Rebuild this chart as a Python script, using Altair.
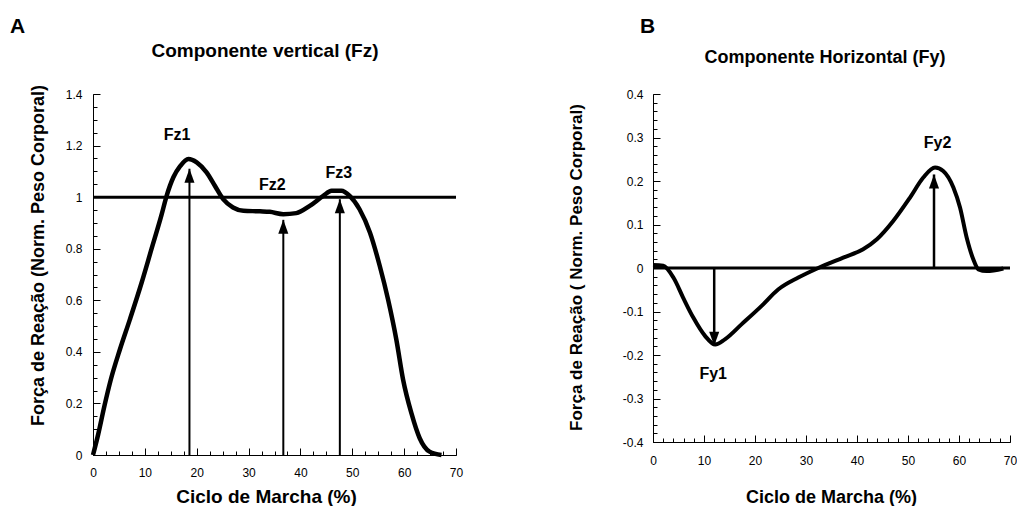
import altair as alt
import pandas as pd

FONT = "Liberation Sans"

# ---------------- Panel A: vertical component (Fz) ----------------
a_x = [0, 1.0, 2.2, 3.4, 5.2, 7.1, 9.4, 11.3, 13.2, 14.2, 15.5, 16.8, 18.4, 20.0,
       21.9, 23.5, 25.1, 27.0, 29.0, 32.2, 34.1, 36.7, 39.2, 41.8, 44.4, 46.0,
       47.9, 49.5, 51.4, 53.4, 55.3, 56.9, 58.5, 59.8, 61.4, 63.0, 64.9, 67.2]
a_y = [0, 0.08, 0.19, 0.29, 0.41, 0.525, 0.67, 0.80, 0.93, 1.005, 1.077, 1.12, 1.148, 1.135,
       1.096, 1.044, 0.992, 0.96, 0.947, 0.945, 0.943, 0.934, 0.938, 0.966, 1.005, 1.025,
       1.025, 1.005, 0.953, 0.863, 0.733, 0.603, 0.447, 0.292, 0.162, 0.065, 0.013, 0.0]

a_arrow_x = [18.6, 36.7, 47.6]
a_arrow_tip = [1.11, 0.912, 0.992]
a_arrow_dir = ["up", "up", "up"]
a_labels = ["Fz1", "Fz2", "Fz3"]
a_label_x = [16.2, 34.6, 47.4]
a_label_y = [1.222, 1.028, 1.074]
a_ref = 1.0
a_y_domain = [0, 1.4]
a_y_major = [0, 0.2, 0.4, 0.6, 0.8, 1.0, 1.2, 1.4]
a_x_minor_step = 2.5
a_y_minor_step = 0.05

# ---------------- Panel B: horizontal component (Fy) ----------------
b_x = [0, 2.0, 4.0, 5.9, 7.9, 10.2, 12.2, 14.1, 17.4, 21.3, 24.6, 28.5, 32.4, 37.3,
       41.2, 43.9, 47.1, 50.4, 53.0, 55.3, 56.9, 58.9, 60.2, 61.5, 62.8, 63.8, 65.4, 68.7]
b_y = [0.007, 0.005, -0.022, -0.068, -0.114, -0.156, -0.176, -0.164, -0.129, -0.087,
       -0.049, -0.022, 0.0, 0.024, 0.043, 0.066, 0.108, 0.162, 0.208, 0.231, 0.223,
       0.185, 0.139, 0.070, 0.020, -0.003, -0.007, -0.001]

b_arrow_x = [12.0, 55.1]
b_arrow_tip = [-0.179, 0.215]
b_arrow_dir = ["down", "up"]
b_labels = ["Fy1", "Fy2"]
b_label_x = [11.8, 55.8]
b_label_y = [-0.255, 0.277]
b_ref = 0.0
b_y_domain = [-0.4, 0.4]
b_y_major = [-0.4, -0.3, -0.2, -0.1, 0, 0.1, 0.2, 0.3, 0.4]
b_x_minor_step = 2
b_y_minor_step = 0.02

x_domain = [0, 70]
x_major = [0, 10, 20, 30, 40, 50, 60, 70]

x_title = "Ciclo de Marcha (%)"
a_y_title = "Força de Reação (Norm. Peso Corporal)"
b_y_title = "Força de Reação ( Norm. Peso Corporal)"
a_title = "Componente vertical (Fz)"
b_title = "Componente Horizontal (Fy)"

UP = "M0,0 L-0.36,1 L0.36,1 Z"
DOWN = "M0,0 L-0.36,-1 L0.36,-1 Z"

LABEL_EXPR = "datum.value < 0 ? '-' + format(-datum.value, '~g') : format(datum.value, '~g')"


def steps(lo, hi, step):
    n = int(round((hi - lo) / step))
    return [round(lo + i * step, 6) for i in range(n + 1)]


def panel(letter, title, cx, cy, arrows_x, arrows_tip, arrows_dir, labels, lx, ly,
          ref, y_domain, y_major, x_minor_step, y_minor_step, y_title,
          width, height, xlab_pad, ylab_pad, xt_x, xt_y, xt_size, yt_x, yt_y, yt_size,
          curve_w, shaft_w, title_dy, letter_dx, title_cx, title_size):
    xs = alt.Scale(domain=x_domain, nice=False, zero=False)
    ys = alt.Scale(domain=y_domain, nice=False, zero=False)
    curve_df = pd.DataFrame({"x": cx, "y": cy})

    main_x = alt.Axis(orient="bottom", values=x_major, ticks=False, grid=False,
                      domainColor="black", domainWidth=1, labelFont=FONT,
                      labelFontSize=12, labelColor="black", labelPadding=xlab_pad,
                      labelFlush=False, labelOverlap=False, title=x_title,
                      titleFont=FONT, titleFontSize=xt_size, titleFontWeight="bold",
                      titleColor="black", titleX=xt_x, titleY=xt_y,
                      titleAnchor="middle", titleAlign="center", titleBaseline="top")
    main_y = alt.Axis(orient="left", values=y_major, ticks=False, grid=False,
                      domainColor="black", domainWidth=1, labelFont=FONT,
                      labelFontSize=12, labelColor="black", labelPadding=ylab_pad,
                      labelFlush=False, labelOverlap=False, labelExpr=LABEL_EXPR,
                      title=y_title, titleFont=FONT, titleFontSize=yt_size,
                      titleFontWeight="bold", titleColor="black", titleX=yt_x,
                      titleY=yt_y, titleAngle=270, titleAlign="center",
                      titleBaseline="bottom")

    curve = alt.Chart(curve_df).mark_line(color="black", strokeWidth=curve_w,
                                          interpolate="monotone").encode(
        x=alt.X("x:Q", scale=xs, axis=main_x),
        y=alt.Y("y:Q", scale=ys, axis=main_y),
    )

    def tick_layer(xvals, yvals, size):
        return alt.Chart(curve_df).mark_line(opacity=0).encode(
            x=alt.X("x:Q", scale=xs, axis=alt.Axis(
                orient="bottom", values=xvals, offset=-size, tickSize=size,
                tickColor="black", tickWidth=1, labels=False, domain=False,
                grid=False, title=None)),
            y=alt.Y("y:Q", scale=ys, axis=alt.Axis(
                orient="left", values=yvals, offset=-size, tickSize=size,
                tickColor="black", tickWidth=1, labels=False, domain=False,
                grid=False, title=None)),
        )

    major = tick_layer(x_major, y_major, 7)
    minor = tick_layer(steps(x_domain[0], x_domain[1], x_minor_step),
                       steps(y_domain[0], y_domain[1], y_minor_step), 4)

    ref_df = pd.DataFrame({"x0": [x_domain[0]], "x1": [x_domain[1]], "r": [ref]})
    ref_rule = alt.Chart(ref_df).mark_rule(color="black", strokeWidth=3).encode(
        x=alt.X("x0:Q", scale=xs, axis=None), x2="x1:Q",
        y=alt.Y("r:Q", scale=ys, axis=None),
    )

    arr_df = pd.DataFrame({"ax": arrows_x, "base": [ref if ref == 0 else 0] * len(arrows_x),
                           "tip": arrows_tip, "dir": arrows_dir})
    shafts = alt.Chart(arr_df).mark_rule(color="black", strokeWidth=shaft_w).encode(
        x=alt.X("ax:Q", scale=xs, axis=None),
        y=alt.Y("base:Q", scale=ys, axis=None), y2="tip:Q",
    )
    heads = alt.Chart(arr_df).mark_point(filled=True, color="black", opacity=1,
                                         size=784, strokeWidth=0).encode(
        x=alt.X("ax:Q", scale=xs, axis=None),
        y=alt.Y("tip:Q", scale=ys, axis=None),
        shape=alt.Shape("dir:N", scale=alt.Scale(domain=["up", "down"], range=[UP, DOWN]),
                        legend=None),
    )

    lab_df = pd.DataFrame({"lx": lx, "ly": ly, "t": labels})
    texts = alt.Chart(lab_df).mark_text(font=FONT, fontSize=16, fontWeight="bold",
                                        color="black", align="center",
                                        baseline="alphabetic").encode(
        x=alt.X("lx:Q", scale=xs, axis=None),
        y=alt.Y("ly:Q", scale=ys, axis=None),
        text="t:N",
    )

    head_df = pd.DataFrame({"t": [letter]})
    letter_mark = alt.Chart(head_df).mark_text(font=FONT, fontSize=21, fontWeight="bold",
                                               color="black", align="left",
                                               baseline="alphabetic").encode(
        x=alt.value(letter_dx), y=alt.value(-61), text="t:N")
    ttl_df = pd.DataFrame({"t": [title]})
    title_mark = alt.Chart(ttl_df).mark_text(font=FONT, fontSize=title_size,
                                             fontWeight="bold", color="black",
                                             align="center", baseline="alphabetic").encode(
        x=alt.value(title_cx), y=alt.value(title_dy), text="t:N")

    return alt.layer(curve, major, minor, ref_rule, shafts, heads, texts,
                     letter_mark, title_mark).resolve_axis(
        x="independent", y="independent").properties(width=width, height=height)


A = panel("A", a_title, a_x, a_y, a_arrow_x, a_arrow_tip, a_arrow_dir, a_labels,
          a_label_x, a_label_y, a_ref, a_y_domain, a_y_major, a_x_minor_step,
          a_y_minor_step, a_y_title, width=363, height=361, xlab_pad=12, ylab_pad=11,
          xt_x=173, xt_y=32, xt_size=19, yt_x=-46, yt_y=161, yt_size=18, curve_w=4.5,
          shaft_w=2, title_dy=-37, letter_dx=-83, title_cx=172, title_size=19)
B = panel("B", b_title, b_x, b_y, b_arrow_x, b_arrow_tip, b_arrow_dir, b_labels,
          b_label_x, b_label_y, b_ref, b_y_domain, b_y_major, b_x_minor_step,
          b_y_minor_step, b_y_title, width=357, height=348, xlab_pad=13, ylab_pad=10,
          xt_x=178, xt_y=46, xt_size=18, yt_x=-68, yt_y=173, yt_size=17, curve_w=4,
          shaft_w=2.5, title_dy=-31, letter_dx=-13, title_cx=172, title_size=18)

chart = alt.HConcatChart(hconcat=[A, B], spacing=197, bounds="flush").properties(
    padding={"left": 10, "top": 16, "right": 0, "bottom": 0},
    background="white",
).configure_view(strokeWidth=0)

chart.save("out.html", embed_options={"renderer": "svg", "actions": False})
